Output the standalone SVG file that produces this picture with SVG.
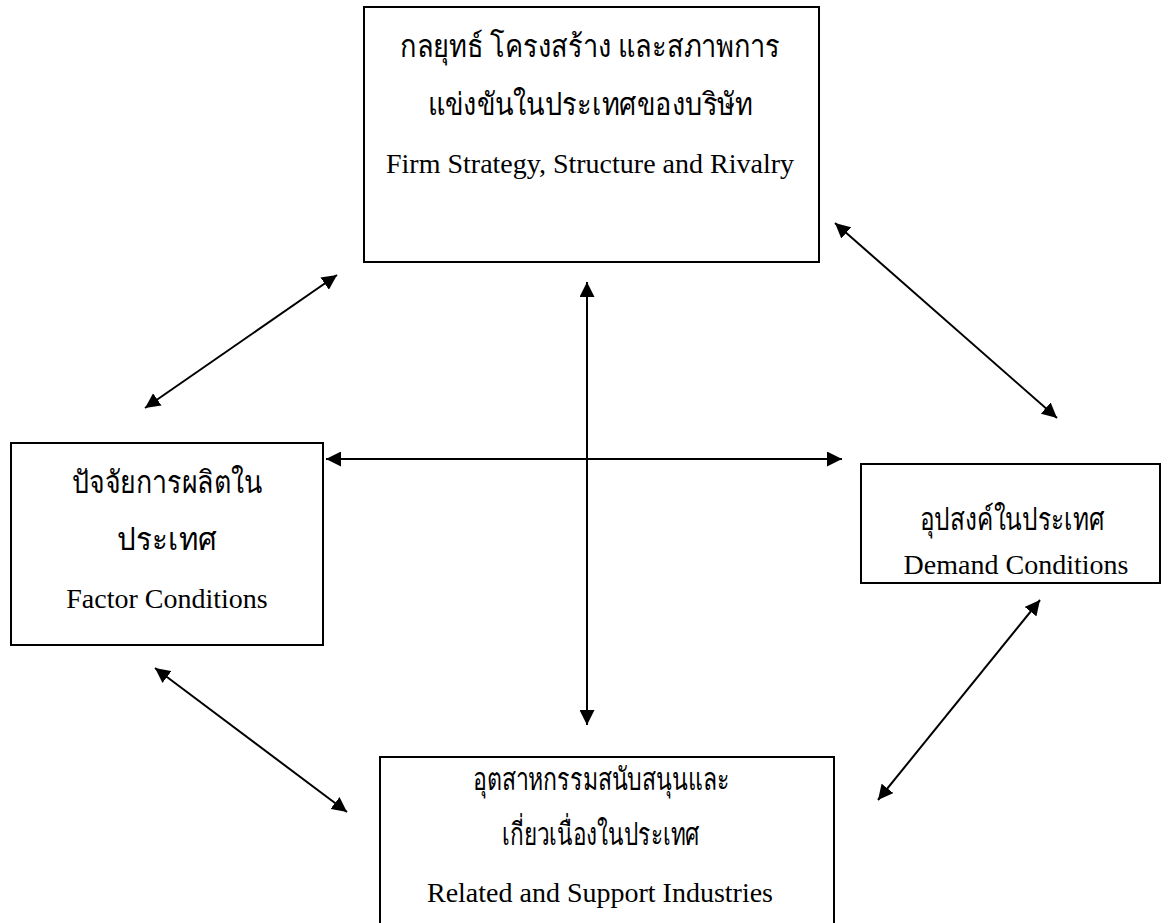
<svg xmlns="http://www.w3.org/2000/svg" width="1168" height="923" viewBox="0 0 1168 923">
<style>
.box{fill:#fff;stroke:#000;stroke-width:2}
.th{font-family:"Liberation Serif","Noto Sans",serif;font-size:31px;fill:#000;text-anchor:middle}
.en{font-family:"Liberation Serif",serif;font-size:28px;fill:#000;text-anchor:middle}
.con{stroke:#000;stroke-width:2;fill:none;marker-start:url(#ah);marker-end:url(#ah)}
</style>
<defs>
<marker id="ah" viewBox="0 0 10 10" refX="10" refY="5" markerWidth="15" markerHeight="15" markerUnits="userSpaceOnUse" orient="auto-start-reverse">
<path d="M0,0 L10,5 L0,10 z" fill="#000"/>
</marker>
</defs>
<rect width="1168" height="923" fill="#fff"/>
<g id="connectors">
<line class="con" x1="337" y1="275" x2="145" y2="408"/>
<line class="con" x1="835" y1="223" x2="1057" y2="418"/>
<line class="con" x1="155" y1="668" x2="347" y2="812"/>
<line class="con" x1="1040" y1="600" x2="878" y2="800"/>
<line class="con" x1="587" y1="282" x2="587" y2="725"/>
<line class="con" x1="326" y1="459" x2="842" y2="459"/>
</g>
<g id="node-firm">
<rect class="box" x="364" y="7" width="455" height="255"/>
<text class="th" x="590" y="57" textLength="380" lengthAdjust="spacingAndGlyphs">กลยุทธ์  โครงสร้าง และสภาพการ</text>
<text class="th" x="590" y="115" textLength="325" lengthAdjust="spacingAndGlyphs">แข่งขันในประเทศของบริษัท</text>
<text class="en" x="590" y="173">Firm Strategy, Structure and Rivalry</text>
</g>
<g id="node-factor">
<rect class="box" x="11" y="443" width="312" height="202"/>
<text class="th" x="167" y="493" textLength="190" lengthAdjust="spacingAndGlyphs">ปัจจัยการผลิตใน</text>
<text class="th" x="167" y="550" textLength="100" lengthAdjust="spacingAndGlyphs">ประเทศ</text>
<text class="en" x="167" y="608">Factor Conditions</text>
</g>
<g id="node-demand">
<rect class="box" x="861" y="464" width="299" height="119"/>
<text class="th" x="1012" y="530" textLength="185" lengthAdjust="spacingAndGlyphs">อุปสงค์ในประเทศ</text>
<text class="en" x="1016" y="574">Demand Conditions</text>
</g>
<g id="node-related">
<rect class="box" x="380" y="757" width="454" height="180"/>
<text class="th" x="601" y="790" textLength="257" lengthAdjust="spacingAndGlyphs">อุตสาหกรรมสนับสนุนและ</text>
<text class="th" x="601" y="845" textLength="198" lengthAdjust="spacingAndGlyphs">เกี่ยวเนื่องในประเทศ</text>
<text class="en" x="600" y="902">Related and Support Industries</text>
</g>
</svg>
